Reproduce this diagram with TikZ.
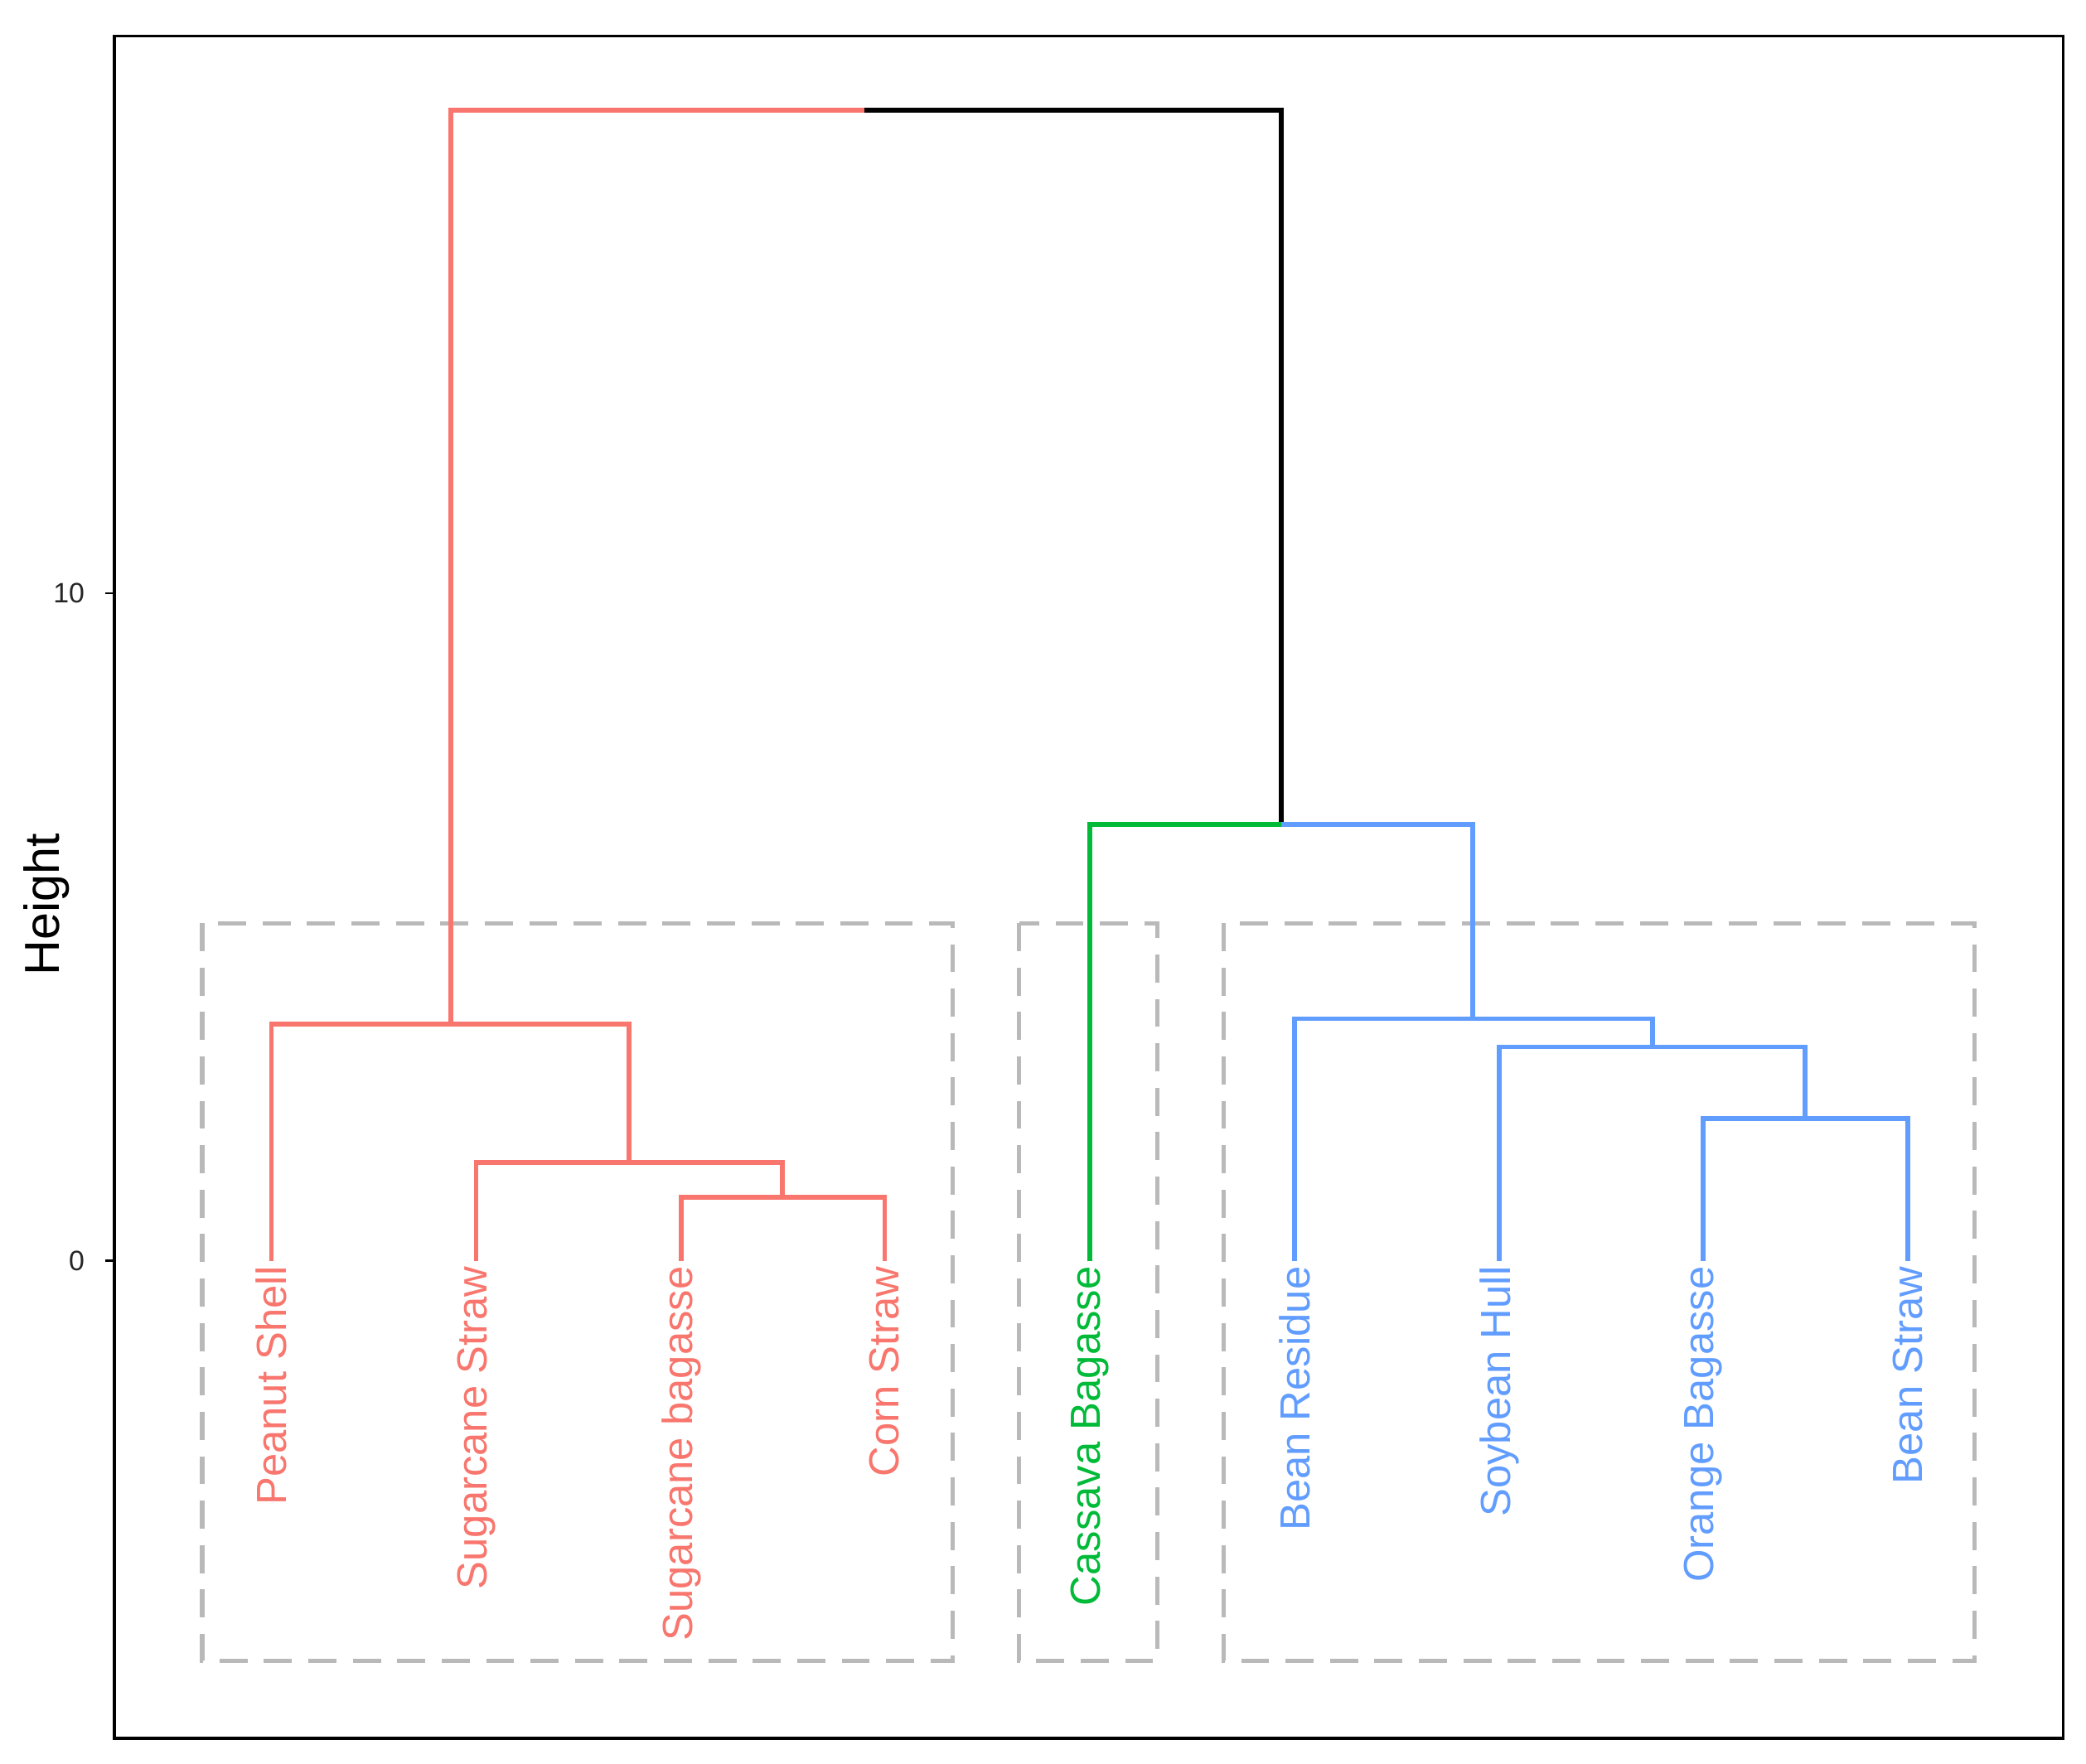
\documentclass[tikz,border=0pt]{standalone}
\usepackage{fontspec}
\setmainfont{Liberation Sans}
\definecolor{cred}{HTML}{F8766D}
\definecolor{cgreen}{HTML}{00BA38}
\definecolor{cblue}{HTML}{619CFF}
\tikzstyle{branch} = [line width=1pt]
\tikzstyle{leaf} = [rotate=90, anchor=east, inner sep=1pt, font=\fontsize{9}{10}\selectfont]
\tikzstyle{group} = [draw=gray!55, dashed, dash pattern=on 6pt off 3.5pt, line width=0.9pt]
\begin{document}
\begin{tikzpicture}[x=0.01cm, y=-0.01cm]
\useasboundingbox (0,0) rectangle (1568,1326);

%% FRAME AND AXIS
\draw [line width=0.6pt] (86,27) rectangle (1551,1307);
\draw [line width=0.5pt] (79,446) -- (86,446);
\draw [line width=0.5pt] (79,948) -- (86,948);
\node (t10) [anchor=east, font=\fontsize{6}{7}\selectfont, gray!30!black] at (76,446) {10};
\node (t0) [anchor=east, font=\fontsize{6}{7}\selectfont, gray!30!black] at (76,948) {0};
\node (ylab) [rotate=90, font=\fontsize{10.5}{12}\selectfont] at (35,680) {Height};

%% GROUP BOXES
\draw [group] (152,694) rectangle (716,1249);
\draw [group] (766,694) rectangle (870,1249);
\draw [group] (920,694) rectangle (1484,1249);

%% LEAVES
\coordinate (peanut) at (204,948);
\coordinate (sstraw) at (358,948);
\coordinate (sbag) at (512,948);
\coordinate (corn) at (665,948);
\coordinate (cassava) at (819,948);
\coordinate (bres) at (973,948);
\coordinate (soy) at (1127,948);
\coordinate (orange) at (1280,948);
\coordinate (bstraw) at (1434,948);

\node (l1) [leaf, cred] at (peanut) {Peanut Shell};
\node (l2) [leaf, cred] at (sstraw) {Sugarcane Straw};
\node (l3) [leaf, cred] at (sbag) {Sugarcane bagasse};
\node (l4) [leaf, cred] at (corn) {Corn Straw};
\node (l5) [leaf, cgreen] at (cassava) {Cassava Bagasse};
\node (l6) [leaf, cblue] at (bres) {Bean Residue};
\node (l7) [leaf, cblue] at (soy) {Soybean Hull};
\node (l8) [leaf, cblue] at (orange) {Orange Bagasse};
\node (l9) [leaf, cblue] at (bstraw) {Bean Straw};

%% MERGES
\coordinate (m1) at (588,900);
\coordinate (m2) at (473,874);
\coordinate (m3) at (339,770);
\coordinate (m4) at (1357,841);
\coordinate (m5) at (1242,787);
\coordinate (m6) at (1107,766);
\coordinate (m7) at (963,620);
\coordinate (root) at (650,83);

%% BRANCHES
\draw [branch, cred] (sbag) |- (m1) -| (corn);
\draw [branch, cred] (sstraw) |- (m2) -| (m1);
\draw [branch, cred] (peanut) |- (m3) -| (m2);
\draw [branch, cred] (m3) |- (root);
\draw [branch] (root) -| (m7);
\draw [branch, cgreen] (cassava) |- (m7);
\draw [branch, cblue] (orange) |- (m4) -| (bstraw);
\draw [branch, cblue] (soy) |- (m5) -| (m4);
\draw [branch, cblue] (bres) |- (m6) -| (m5);
\draw [branch, cblue] (m7) -| (m6);
\end{tikzpicture}
\end{document}
